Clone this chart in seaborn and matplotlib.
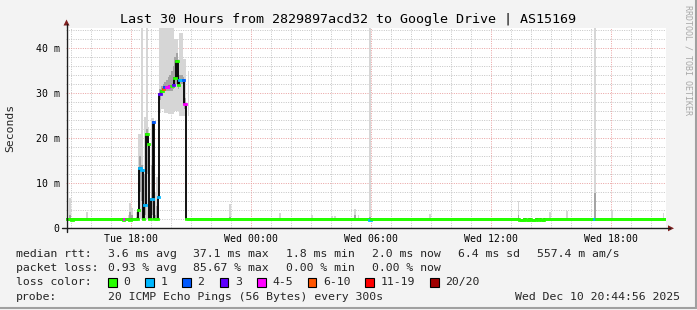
import numpy as np
import pandas as pd
import matplotlib
matplotlib.use("Agg")
import matplotlib.pyplot as plt
import seaborn as sns
from matplotlib.patches import Rectangle, Polygon
from matplotlib.lines import Line2D

# ---------------- data (5-minute steps starting Tue 14:45) ----------------
start_time = "2025-12-09 14:45"
step_minutes = 5

median_ms = [
    1.9, 1.9, 1.9, 1.8, 1.9, 1.9, 1.9, 1.9, 1.9, 2.0, 1.9, 1.9,
    1.9, 1.9, 2.0, 1.9, 1.9, 1.9, 2.0, 1.9, 1.9, 1.9, 2.0, 1.9,
    2.0, 1.9, 1.9, 2.0, 1.9, 1.9, 1.9, 2.0, 1.9, 1.9, 1.8, 2.0,
    1.9, 1.9, 1.8, 1.9, 1.9, 2.0, 1.9, 3.9, 13.3, 13.0, 1.9, 5.2,
    20.9, 18.6, 1.9, 6.4, 23.5, 1.9, 1.9, 6.8, 29.8, 30.5, 31.0, 31.3,
    31.4, 31.4, 31.5, 31.6, 31.7, 33.3, 37.1, 31.8, 32.9, 33.0, 32.9, 27.6,
    1.9, 2.0, 1.9, 1.9, 2.0, 2.0, 1.9, 2.0, 1.9, 1.9, 2.0, 1.9,
    2.0, 2.1, 2.0, 2.0, 2.1, 2.0, 2.0, 2.1, 2.0, 2.0, 2.0, 2.1,
    2.0, 2.0, 2.1, 2.0, 2.0, 2.0, 2.1, 2.0, 2.0, 2.0, 2.0, 1.9,
    2.0, 1.9, 2.0, 2.0, 1.9, 2.0, 2.0, 2.0, 1.9, 2.0, 2.0, 1.9,
    1.9, 2.0, 1.9, 1.9, 2.0, 1.9, 1.9, 1.9, 2.0, 1.9, 1.9, 2.0,
    1.9, 1.9, 2.0, 1.9, 1.9, 1.9, 2.0, 1.9, 1.9, 2.0, 1.9, 1.9,
    1.9, 2.0, 1.9, 1.9, 1.9, 2.0, 1.9, 1.9, 1.9, 2.0, 1.9, 1.9,
    2.0, 1.9, 1.9, 1.9, 1.9, 2.0, 1.9, 1.9, 2.0, 1.9, 1.9, 1.9,
    1.9, 2.0, 1.9, 1.9, 1.9, 2.0, 1.9, 1.9, 1.9, 2.0, 1.9, 1.9,
    1.9, 1.9, 1.8, 1.9, 2.0, 1.9, 1.9, 2.0, 1.9, 1.9, 2.0, 1.9,
    1.9, 2.0, 1.9, 1.9, 2.0, 1.9, 1.9, 1.9, 2.0, 1.9, 1.9, 2.0,
    1.9, 1.9, 2.0, 1.9, 1.9, 1.9, 2.0, 1.9, 2.0, 1.9, 1.9, 1.9,
    2.0, 1.9, 1.9, 2.0, 1.9, 1.9, 1.9, 2.0, 1.9, 1.9, 2.0, 1.9,
    1.9, 1.9, 2.0, 1.9, 1.9, 2.0, 1.9, 1.9, 1.9, 2.0, 1.9, 1.9,
    2.0, 1.9, 1.9, 1.9, 2.0, 1.9, 1.9, 2.0, 1.9, 1.9, 1.9, 2.0,
    1.9, 1.9, 2.0, 1.9, 1.9, 1.9, 2.0, 1.9, 1.9, 2.0, 1.9, 1.9,
    1.9, 2.0, 1.9, 1.9, 1.9, 1.9, 2.0, 1.9, 1.8, 1.8, 1.8, 1.9,
    1.8, 1.8, 1.9, 1.8, 1.8, 1.8, 1.9, 1.8, 1.9, 1.8, 1.8, 1.9,
    1.9, 1.9, 2.0, 1.9, 1.9, 1.9, 2.0, 1.9, 1.9, 1.9, 2.0, 1.9,
    1.9, 2.0, 1.9, 1.9, 1.9, 2.0, 1.9, 1.9, 2.0, 1.9, 1.9, 1.9,
    2.0, 1.9, 1.9, 1.9, 1.9, 1.9, 2.0, 1.9, 1.9, 2.0, 1.9, 1.9,
    1.9, 1.9, 2.0, 1.9, 1.9, 2.0, 1.9, 1.9, 1.9, 2.0, 1.9, 1.9,
    1.9, 2.0, 1.9, 1.9, 2.0, 1.9, 1.9, 1.9, 2.0, 1.9, 1.9, 2.0,
    1.9, 1.9, 2.0, 1.9, 1.9, 1.9, 2.0, 1.9, 1.9, 2.0, 1.9, 2.0,
]

# steps with packet loss (number of lost pings out of 20)
loss_steps = [35, 44, 45, 47, 51, 52, 55, 56, 58, 59, 60, 61, 62, 64, 68, 69, 70, 71, 182, 317]
loss_pings = [4, 1, 1, 1, 1, 2, 1, 3, 6, 2, 4, 4, 4, 3, 1, 1, 2, 4, 1, 1]

# smoke (ping spread) for steps where it is visible
smoke_steps = [2, 12, 37, 38, 39, 42, 43, 44, 45, 46, 47, 48, 49, 50, 51, 52, 53, 54, 55,
               56, 57, 58, 59, 60, 61, 62, 63, 64, 65, 66, 67, 68, 69, 70, 71, 73,
               98, 128, 147, 159, 161, 173, 175, 182, 218, 271, 290, 300, 317, 327, 358]
smoke_lo = [1.8, 1.8, 1.8, 1.8, 1.8, 1.8, 1.9, 2.0, 1.9, 1.8, 1.9, 2.0, 2.0, 1.8, 1.9, 2.0, 1.8, 1.8, 2.0,
            25.5, 26.5, 26.5, 25.6, 25.6, 25.3, 25.3, 25.3, 25.3, 26.0, 26.0, 26.0, 25.0, 25.0, 25.0, 25.0, 25.0,
            1.8, 1.8, 1.8, 1.8, 1.8, 1.8, 1.8, 1.7, 1.8, 1.8, 1.8, 1.8, 1.8, 1.8, 1.8]
smoke_hi = [6.6, 3.6, 3.0, 5.6, 4.5, 3.5, 21.0, 21.0, 44.5, 9.0, 24.7, 44.5, 22.5, 6.0, 24.4, 24.4, 8.0, 11.4, 12.0,
            44.5, 44.5, 44.5, 44.5, 44.5, 44.5, 44.5, 44.5, 44.5, 42.0, 42.0, 37.5, 43.4, 43.4, 37.5, 37.5, 35.0,
            5.3, 3.4, 2.9, 2.7, 2.7, 4.2, 2.9, 44.5, 3.1, 6.0, 3.5, 3.7, 44.5, 4.0, 3.4]
core_lo = [1.9, 1.9, 1.9, 2.0, 1.9, 1.9, 3.0, 8.0, 6.0, 1.9, 3.0, 12.0, 10.0, 1.9, 3.0, 12.0, 1.9, 2.0, 4.0,
           28.5, 29.5, 30.0, 30.5, 30.5, 30.5, 30.5, 30.5, 31.0, 31.5, 32.0, 31.0, 32.0, 32.0, 31.5, 26.5, 1.9,
           1.9, 1.9, 1.9, 1.9, 1.9, 1.9, 1.9, 1.8, 1.9, 1.9, 1.9, 1.9, 2.2, 1.9, 1.9]
core_hi = [3.0, 2.2, 2.2, 3.5, 2.8, 2.4, 10.0, 16.0, 14.0, 3.5, 12.0, 22.0, 20.0, 3.0, 14.0, 23.5, 3.0, 5.0, 9.0,
           31.0, 31.5, 32.0, 32.5, 33.0, 33.5, 34.0, 35.0, 36.0, 38.0, 39.0, 35.0, 34.0, 34.0, 33.5, 29.0, 2.1,
           2.5, 2.2, 2.1, 2.1, 2.1, 3.0, 2.1, 2.5, 2.1, 3.0, 2.2, 2.2, 7.8, 2.3, 2.1]

loss_labels = ["0", "1", "2", "3", "4-5", "6-10", "11-19", "20/20"]
loss_colors = ["#26ff00", "#00b8ff", "#0059ff", "#5e00ff", "#ff00ff", "#ff5500", "#ff0000", "#a10000"]
loss_bucket_min = [0, 1, 2, 3, 4, 6, 11, 20]

x_tick_times = ["2025-12-09 18:00", "2025-12-10 00:00", "2025-12-10 06:00",
                "2025-12-10 12:00", "2025-12-10 18:00"]
x_tick_labels = ["Tue 18:00", "Wed 00:00", "Wed 06:00", "Wed 12:00", "Wed 18:00"]
y_tick_values = [0, 10, 20, 30, 40]
y_tick_labels = ["0", "10 m", "20 m", "30 m", "40 m"]

title = "Last 30 Hours from 2829897acd32 to Google Drive | AS15169"
stats_rtt = ["3.6 ms avg", "37.1 ms max", "1.8 ms min", "2.0 ms now", "6.4 ms sd", "557.4 m am/s"]
stats_loss = ["0.93 % avg", "85.67 % max", "0.00 % min", "0.00 % now"]
probe_text = "20 ICMP Echo Pings (56 Bytes) every 300s"
stamp_text = "Wed Dec 10 20:44:56 2025"

# ---------------- figure setup ----------------
sns.set_style("white")
plt.rcParams["font.family"] = ["DejaVu Sans Mono", "DejaVu Sans"]

W, H = 697, 310
BG = "#f3f3f3"
fig = plt.figure(figsize=(W / 100, H / 100), dpi=100, facecolor=BG)

def fx(px):
    return px / W

def fy(py):
    return 1 - py / H

X0, X1, Y0, Y1 = 66.0, 666.0, 228.0, 28.0
ax = fig.add_axes([fx(X0), fy(Y0), (X1 - X0) / W, (Y0 - Y1) / H])
ax.set_facecolor("white")
for s in ax.spines.values():
    s.set_visible(False)

step_h = step_minutes / 60.0
n = len(median_ms)
t0 = pd.Timestamp(start_time)
t_start = np.arange(n) * step_h
total_h = 30.0
ax.set_xlim(0, total_h)
ax.set_ylim(0, 44.45)

# grid
minor_x = np.arange(0, total_h + 1e-9, 1.0) + 0.25
major_x = [(pd.Timestamp(t) - t0) / pd.Timedelta(hours=1) for t in x_tick_times]
minor_y = np.arange(2, 44.45, 2)
dots = (0, (1.0, 1.4))
for v in minor_x:
    if min(abs(v - m) for m in major_x) > 1e-6:
        ax.axvline(v, color="#c4c4c4", lw=0.7, ls=dots, zorder=0)
for v in minor_y:
    if v % 10 != 0:
        ax.axhline(v, color="#c4c4c4", lw=0.7, ls=dots, zorder=0)
for v in major_x:
    ax.axvline(v, color="#e9a0a0", lw=0.7, ls=dots, zorder=0.5)
for v in y_tick_values[1:]:
    ax.axhline(v, color="#e9a0a0", lw=0.7, ls=dots, zorder=0.5)

# smoke
s_idx = np.array(smoke_steps)
ax.bar(t_start[s_idx], np.array(smoke_hi) - np.array(smoke_lo), bottom=smoke_lo,
       width=step_h, align="edge", color="#d6d6d6", linewidth=0, zorder=2)
ax.bar(t_start[s_idx], np.array(core_hi) - np.array(core_lo), bottom=core_lo,
       width=step_h, align="edge", color="#a4a4a4", linewidth=0, zorder=2.1)

# median step line (black)
df = pd.DataFrame({"hours": np.append(t_start, total_h),
                   "median": np.append(median_ms, median_ms[-1])})
sns.lineplot(data=df, x="hours", y="median", drawstyle="steps-post",
             color="black", lw=1.3, ax=ax, zorder=3)

# loss-coloured median segments
loss_full = np.zeros(n, dtype=int)
loss_full[loss_steps] = loss_pings
bucket = np.searchsorted(loss_bucket_min, loss_full, side="right") - 1
seg_colors = [loss_colors[b] for b in bucket]
ax.hlines(median_ms, t_start, t_start + step_h, colors=seg_colors, lw=2.0,
          zorder=4, capstyle="projecting")

# ticks
ax.set_xticks(major_x)
ax.set_xticklabels(x_tick_labels)
ax.set_yticks(y_tick_values)
ax.set_yticklabels(y_tick_labels)
ax.tick_params(axis="both", length=0, labelsize=7.1, colors="#000000")
ax.tick_params(axis="x", pad=4.5)
ax.tick_params(axis="y", pad=4.6)
ax.set_xlabel("")
ax.set_ylabel("")

# axis lines with arrows
axis_col = "#1e1e1e"
arrow_col = "#7f1f1f"
fig.add_artist(Line2D([fx(62), fx(670)], [fy(228.3), fy(228.3)], color=axis_col, lw=1.0))
fig.add_artist(Line2D([fx(66.5), fx(66.5)], [fy(232), fy(24)], color=axis_col, lw=1.0))
fig.add_artist(Polygon([[fx(668), fy(225.3)], [fx(668), fy(231.3)], [fx(674), fy(228.3)]],
                       closed=True, color=arrow_col, lw=0))
fig.add_artist(Polygon([[fx(63.5), fy(25.5)], [fx(69.5), fy(25.5)], [fx(66.5), fy(19.5)]],
                       closed=True, color=arrow_col, lw=0))

# title, axis label, watermark
fig.text(fx(348), fy(19), title, ha="center", va="center", fontsize=9.6, color="black")
fig.text(fx(10), fy(128), "Seconds", rotation=90, ha="center", va="center", fontsize=8.2)
fig.text(fx(688), fy(60), "RRDTOOL / TOBI OETIKER", rotation=270, ha="center", va="center",
         fontsize=6.0, color="#a8a8a8")

# legend block
LF = 8.25
rows_y = [254, 268, 282, 297]
fig.text(fx(16), fy(rows_y[0]), "median rtt:", va="center", fontsize=LF)
for x, s in zip([107.5, 193, 286, 371.5, 458, 537], stats_rtt):
    fig.text(fx(x), fy(rows_y[0]), s, va="center", fontsize=LF)
fig.text(fx(16), fy(rows_y[1]), "packet loss:", va="center", fontsize=LF)
for x, s in zip([107.5, 193, 286, 371.5], stats_loss):
    fig.text(fx(x), fy(rows_y[1]), s, va="center", fontsize=LF)
fig.text(fx(16), fy(rows_y[2]), "loss color:", va="center", fontsize=LF)
box_x = [108, 145, 182, 219.5, 257, 307.5, 365, 430]
for bx, col, lab in zip(box_x, loss_colors, loss_labels):
    fig.add_artist(Rectangle((fx(bx), fy(rows_y[2] + 4.5)), 8.5 / W, 8.5 / H,
                             facecolor=col, edgecolor="black", lw=0.8))
    fig.text(fx(bx + 15.5), fy(rows_y[2]), lab, va="center", fontsize=LF)
fig.text(fx(16), fy(rows_y[3]), "probe:", va="center", fontsize=LF)
fig.text(fx(107.5), fy(rows_y[3]), probe_text, va="center", fontsize=LF)
fig.text(fx(680), fy(rows_y[3]), stamp_text, va="center", ha="right", fontsize=LF)

# shaded frame
fig.add_artist(Line2D([fx(695.5), fx(695.5)], [fy(0), fy(308)], color="#a0a0a0", lw=1.5))
fig.add_artist(Line2D([fx(0), fx(696)], [fy(308), fy(308)], color="#a0a0a0", lw=1.5))

fig.savefig("out.png", dpi=100, facecolor=BG)
